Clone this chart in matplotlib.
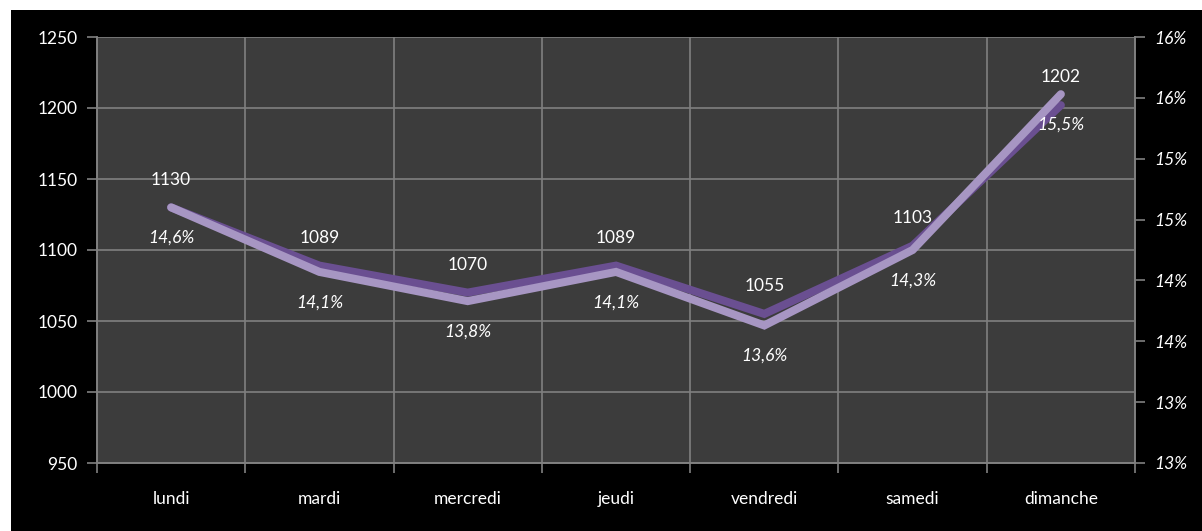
import matplotlib.pyplot as plt
from matplotlib.patches import Rectangle
from matplotlib.ticker import FuncFormatter
import numpy as np

plt.rcParams["font.family"] = ["Lato", "DejaVu Sans"]

jours = ["lundi", "mardi", "mercredi", "jeudi", "vendredi", "samedi", "dimanche"]
nombre = [1130, 1089, 1070, 1089, 1055, 1103, 1202]
part = [14.60, 14.07, 13.83, 14.07, 13.63, 14.25, 15.53]
part_txt = ["14,6%", "14,1%", "13,8%", "14,1%", "13,6%", "14,3%", "15,5%"]

fs = 12.5

fig = plt.figure(figsize=(12.02, 5.31), dpi=100, facecolor="white")
fig.patches.append(Rectangle((11 / 1202, 0), 1 - 11 / 1202, 1 - 10 / 531,
                             transform=fig.transFigure, facecolor="black",
                             edgecolor="none", zorder=-10))

ax = fig.add_axes([97 / 1202, 1 - 463 / 531, (1135 - 97) / 1202, (463 - 37) / 531])
ax2 = ax.twinx()
ax.set_facecolor("#3c3c3c")

x = np.arange(len(jours))
ax.set_xlim(-0.5, len(jours) - 0.5)
ax.set_ylim(950, 1250)
ax2.set_ylim(12.5, 16)

ax.plot(x, nombre, color="#6a4f91", lw=5.8, solid_capstyle="round", solid_joinstyle="miter", zorder=3)
ax2.plot(x, part, color="#a796c3", lw=5.8, solid_capstyle="round", solid_joinstyle="miter", zorder=4)

for i in range(len(jours)):
    ax.annotate(str(nombre[i]), (x[i], nombre[i]), xytext=(0, 20), textcoords="offset points",
                ha="center", va="center", color="white", fontsize=fs, zorder=6)
    ax2.annotate(part_txt[i], (x[i], part[i]), xytext=(0, -22), textcoords="offset points",
                 ha="center", va="center", color="white", fontsize=fs, style="italic", zorder=6)

ax.set_yticks(np.arange(950, 1251, 50))
ax2.set_yticks(np.arange(12.5, 16.01, 0.5))
ax2.yaxis.set_major_formatter(FuncFormatter(lambda v, p: "%d%%" % int(np.floor(v + 0.5 + 1e-9))))
ax.set_xticks(np.arange(-0.5, len(jours), 1))
ax.set_xticklabels([])
ax.set_xticks(x, minor=True)
ax.set_xticklabels(jours, minor=True)
ax.tick_params(axis="x", which="minor", length=0, pad=20, colors="white", labelsize=fs)
ax.tick_params(axis="x", which="major", length=7, color="#808080", width=1.2)
ax.tick_params(axis="y", length=7, color="#808080", width=1.2, labelcolor="white", labelsize=fs, pad=7)
ax2.tick_params(axis="y", length=7, color="#808080", width=1.2, labelcolor="white", labelsize=fs, pad=7)
for lab in ax2.get_yticklabels():
    lab.set_fontstyle("italic")

ax.grid(True, which="major", color="#808080", lw=1.2)
ax.set_axisbelow(True)
for a in (ax, ax2):
    for s in a.spines.values():
        s.set_color("#808080")
        s.set_linewidth(1.2)
    a.spines["top"].set_visible(False)
ax2.set_zorder(ax.get_zorder() + 1)
ax2.patch.set_visible(False)

fig.savefig("out.png", dpi=100, facecolor="white")
